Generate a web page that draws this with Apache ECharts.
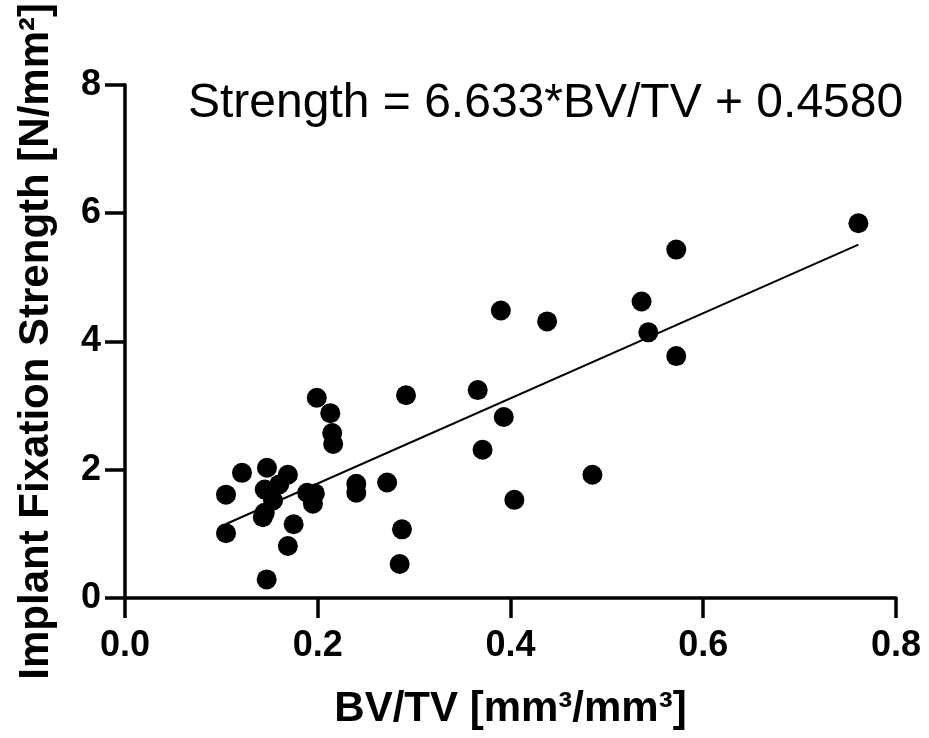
<!DOCTYPE html>
<html><head><meta charset="utf-8">
<script src="https://cdn.jsdelivr.net/npm/echarts@6/dist/echarts.min.js"></script>
<style>html,body{margin:0;padding:0;background:#fff}#c{width:929px;height:738px}</style>
</head><body><div id="c"></div>
<script>
// Data
const bvtv = [0.1048, 0.1048, 0.1214, 0.1473, 0.169, 0.145, 0.160, 0.1536, 0.145, 0.143,
              0.175, 0.169, 0.147, 0.189, 0.197, 0.195, 0.199, 0.213, 0.215, 0.216,
              0.240, 0.240, 0.272, 0.2916, 0.2874, 0.285, 0.366, 0.390, 0.393, 0.371,
              0.404, 0.438, 0.485, 0.536, 0.543, 0.572, 0.572, 0.761];
const strength = [1.61, 1.01, 1.95, 2.03, 1.92, 1.69, 1.77, 1.52, 1.33, 1.26,
                  1.15, 0.81, 0.29, 1.64, 1.63, 1.47, 3.12, 2.88, 2.57, 2.40,
                  1.78, 1.64, 1.80, 3.16, 1.07, 0.53, 3.24, 4.48, 2.82, 2.31,
                  1.53, 4.31, 1.92, 4.62, 4.14, 5.43, 3.77, 5.84];
// Regression fit shown on the chart
const slope = 6.633;
const intercept = 0.4580;
const fitX = [0.1048, 0.761];
const equationText = 'Strength = 6.633*BV/TV + 0.4580';
const xAxisName = 'BV/TV [mm³/mm³]';
const yAxisName = 'Implant Fixation Strength [N/mm²]';

const points = bvtv.map((x, i) => [x, strength[i]]);
const fitLine = fitX.map(x => [x, slope * x + intercept]);

const chart = echarts.init(document.getElementById('c'), null, {renderer: 'canvas'});
const font = '"Liberation Sans", Arial, Helvetica, sans-serif';
function axisBase() {
  return {
    axisLine: {show: true, onZero: false, lineStyle: {color: '#000', width: 3.5}},
    axisTick: {show: true, inside: false, length: 20, lineStyle: {color: '#000', width: 3.5}},
    splitLine: {show: false},
    nameLocation: 'middle',
    nameTextStyle: {fontFamily: font, fontWeight: 'bold', fontSize: 42, color: '#000'}
  };
}
chart.setOption({
  backgroundColor: '#fff',
  animation: false,
  title: {
    text: equationText,
    left: 188, top: 80, padding: 0,
    textStyle: {fontFamily: font, fontWeight: 'normal', fontSize: 48, color: '#000'}
  },
  grid: {left: 125, right: 33, top: 82, bottom: 140, containLabel: false},
  xAxis: Object.assign(axisBase(), {
    type: 'value', min: 0, max: 0.8, interval: 0.2,
    name: xAxisName, nameGap: 90,
    axisLabel: {margin: 30, fontFamily: font, fontWeight: 'bold', fontSize: 36, color: '#000',
      formatter: v => v.toFixed(1)}
  }),
  yAxis: Object.assign(axisBase(), {
    type: 'value', min: 0, max: 8, interval: 2,
    name: yAxisName, nameGap: 68, nameRotate: 90,
    axisLabel: {margin: 24, fontFamily: font, fontWeight: 'bold', fontSize: 36, color: '#000'}
  }),
  series: [
    {type: 'line', data: fitLine, symbol: 'none', silent: true,
     lineStyle: {color: '#000', width: 2}, z: 2},
    {type: 'scatter', data: points, symbol: 'circle', symbolSize: 20,
     itemStyle: {color: '#000', opacity: 1}, z: 3}
  ]
});
</script>
</body></html>
